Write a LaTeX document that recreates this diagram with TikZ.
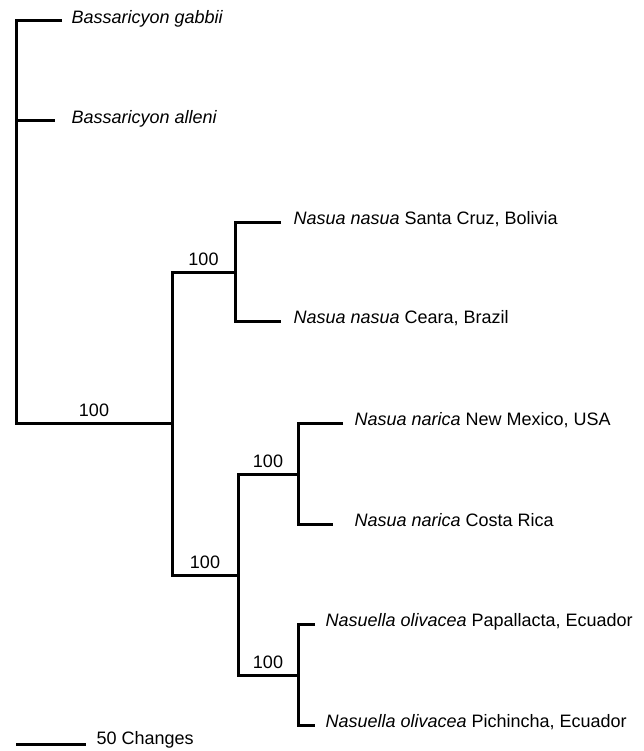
\documentclass[tikz,border=0pt]{standalone}
\usepackage{fontspec}
\setmainfont{Liberation Sans}
\begin{document}
\begin{tikzpicture}[x=1pt, y=-1pt, line width=3pt,
  font=\fontsize{18}{22}\selectfont,
  taxon/.style={anchor=mid west, inner sep=0pt},
  support/.style={midway, above=5pt, inner sep=0pt}]

\useasboundingbox (0,0) rectangle (644,751);

% internal nodes
\coordinate (root) at (16,423);
\coordinate (n1) at (172,423);
\coordinate (nasua) at (235,272);
\coordinate (lower) at (238,575);
\coordinate (narica) at (298,474);
\coordinate (olivacea) at (298,675);

% branch tips
\foreach \n/\x/\y in {gab/62/21, all/55/121, sc/281/222, ce/281/321, nm/343/423, cr/333/524, pap/315/624, pic/315/725}
    \coordinate (\n-tip) at (\x,\y);

% taxa
\node[taxon] (gab) at (70,21) {\textit{Bassaricyon gabbii}};
\node[taxon] (all) at (70,121) {\textit{Bassaricyon alleni}};
\node[taxon] (sc) at (292,222) {\textit{Nasua nasua} Santa Cruz, Bolivia};
\node[taxon] (ce) at (292,321) {\textit{Nasua nasua} Ceara, Brazil};
\node[taxon] (nm) at (353,423) {\textit{Nasua narica} New Mexico, USA};
\node[taxon] (cr) at (353,524) {\textit{Nasua narica} Costa Rica};
\node[taxon] (pap) at (324,624) {\textit{Nasuella olivacea} Papallacta, Ecuador};
\node[taxon] (pic) at (324,725) {\textit{Nasuella olivacea} Pichincha, Ecuador};

% branches
\draw (gab-tip) -| (root) -- node[support] (bs1) {100} (n1);
\draw (root |- all-tip) -- (all-tip);
\draw (nasua) -| (n1) |- (lower);
\draw (sc-tip) -| (nasua) |- (ce-tip);
\draw (narica) -| (lower) |- (olivacea);
\draw (nm-tip) -| (narica) |- (cr-tip);
\draw (pap-tip) -| (olivacea) |- (pic-tip);

% bootstrap values
\foreach \a/\b/\m in {n1/nasua/bs2, n1/lower/bs3, lower/narica/bs4, lower/olivacea/bs5}
    \path (\a |- \b) -- node[support] (\m) {100} (\b);

% scale bar
\coordinate (bar-l) at (16,744);
\coordinate (bar-r) at (86,744);
\draw (bar-l) -- (bar-r);
\node[taxon] (bar) at (95,742) {50 Changes};
\end{tikzpicture}
\end{document}
